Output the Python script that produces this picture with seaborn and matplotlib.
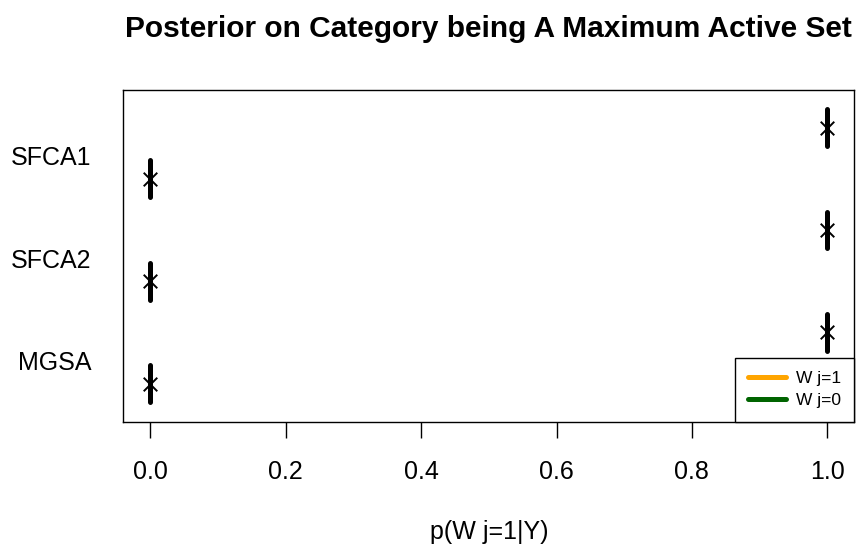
import matplotlib
matplotlib.use("Agg")
import matplotlib.pyplot as plt
import seaborn as sns
import pandas as pd
from matplotlib.lines import Line2D

# ---- data ----
methods = ["MGSA", "SFCA2", "SFCA1"]          # bottom to top
posterior_w1 = [1.0, 1.0, 1.0]                 # posterior mean for W j=1 categories
posterior_w0 = [0.0, 0.0, 0.0]                 # posterior mean for W j=0 categories
x_ticks = [0.0, 0.2, 0.4, 0.6, 0.8, 1.0]
x_tick_labels = ["0.0", "0.2", "0.4", "0.6", "0.8", "1.0"]
legend_labels = ["W j=1", "W j=0"]
legend_colors = ["orange", "darkgreen"]

rows = []
for i, m in enumerate(methods):
    rows.append({"method": m, "state": "W j=0", "p": posterior_w0[i], "ypos": 2 * i + 1})
    rows.append({"method": m, "state": "W j=1", "p": posterior_w1[i], "ypos": 2 * i + 2})
df = pd.DataFrame(rows)

sns.set_style("white")
plt.rcParams["font.family"] = ["Liberation Sans", "DejaVu Sans"]
plt.rcParams["text.color"] = "black"
plt.rcParams["axes.labelcolor"] = "black"
plt.rcParams["xtick.color"] = "black"
plt.rcParams["ytick.color"] = "black"

fig = plt.figure(figsize=(8.6, 5.46), dpi=100)
ax = fig.add_axes([0.1434, 0.2280, 0.8500, 0.6077])

# vertical interval bars
half = 0.36
for _, r in df.iterrows():
    ax.plot([r["p"], r["p"]], [r["ypos"] - half, r["ypos"] + half],
            color="black", lw=3.6, solid_capstyle="round", zorder=2)

sns.scatterplot(data=df, x="p", y="ypos", marker="x", color="black",
                s=95, linewidth=1.4, ax=ax, legend=False, zorder=3)

ax.set_xlim(-0.04, 1.04)
ax.set_ylim(0.26, 6.74)

ax.set_xticks(x_ticks)
ax.set_xticklabels(x_tick_labels, fontsize=18, color="black")
ax.set_yticks([2 * i + 1.45 for i in range(len(methods))])
ax.set_yticklabels(methods, fontsize=18, color="black")
ax.tick_params(axis="x", direction="out", length=11.5, width=1.0, pad=16.5,
               color="black", bottom=True)
ax.tick_params(axis="y", length=0, pad=23)

for sp in ax.spines.values():
    sp.set_visible(True)
    sp.set_color("black")
    sp.set_linewidth(1.0)

ax.set_xlabel("p(W j=1|Y)", fontsize=18, labelpad=25.5, color="black")
ax.set_ylabel("")
ax.set_title("Posterior on Category being A Maximum Active Set",
             fontsize=21.5, fontweight="bold", pad=38, color="black")

handles = [Line2D([0], [0], color=c, lw=3.6, solid_capstyle="round")
           for c in legend_colors]
leg = ax.legend(handles, legend_labels, loc="lower right", fontsize=12.5,
                frameon=True, fancybox=False, framealpha=1, edgecolor="black",
                borderaxespad=0, handlelength=2.2, handletextpad=0.6,
                labelspacing=0.4, borderpad=0.75)
leg.get_frame().set_linewidth(1.0)
for t in leg.get_texts():
    t.set_color("black")

fig.savefig("out.png", dpi=100)
